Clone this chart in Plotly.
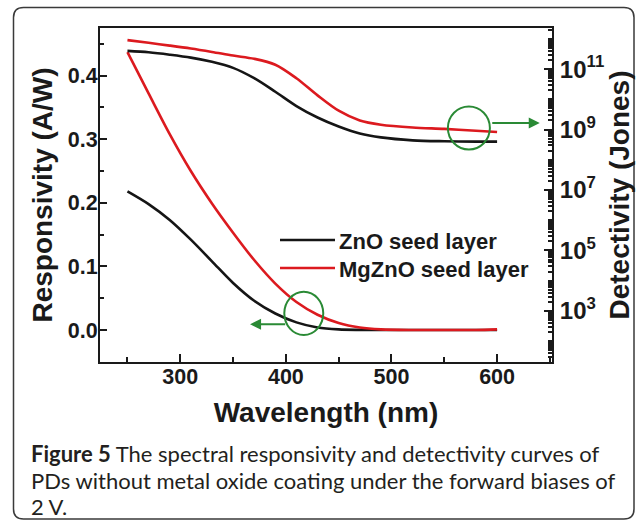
import plotly.graph_objects as go

# ---------------- data ----------------
wavelength = [250, 270, 290, 310, 330, 350, 370, 390, 410, 430, 450, 470, 490, 520, 550, 580, 600]

resp_zno = [0.218, 0.198, 0.173, 0.142, 0.108, 0.074, 0.046, 0.026, 0.012, 0.0040,
            0.0010, 0.0002, 0.0, 0.0, 0.0, 0.0, 0.0]
resp_mgzno = [0.437, 0.372, 0.308, 0.250, 0.199, 0.153, 0.110, 0.073, 0.044, 0.024,
              0.011, 0.004, 0.001, 0.0, 0.0, 0.0, 0.001]

det_zno = [4.0e11, 3.6e11, 3.0e11, 2.4e11, 1.74e11, 1.1e11, 5.0e10, 1.78e10, 6.0e9, 2.5e9,
           1.26e9, 7.4e8, 5.5e8, 4.4e8, 4.1e8, 4.0e8, 4.0e8]
det_mgzno = [9.1e11, 7.4e11, 6.0e11, 4.8e11, 3.7e11, 2.8e11, 2.2e11, 1.4e11, 5.0e10, 1.35e10,
             4.2e9, 2.0e9, 1.45e9, 1.17e9, 1.05e9, 9.1e8, 8.3e8]

series_names = ["ZnO seed layer", "MgZnO seed layer"]
series_colors = ["#151515", "#dc1a1f"]

x_title = "Wavelength (nm)"
y_title = "Responsivity (A/W)"
y2_title = "Detectivity (Jones)"

det_tick_vals = [1e3, 1e5, 1e7, 1e9, 1e11]
det_tick_text = ["10<sup>3</sup>", "10<sup>5</sup>", "10<sup>7</sup>", "10<sup>9</sup>", "10<sup>11</sup>"]
det_minor_vals = [m * 10.0 ** e for e in range(1, 13) for m in range(1, 10)
                  if not (m == 1 and e in (3, 5, 7, 9, 11))]

caption_lines = [
    "<b>Figure 5</b> The spectral responsivity and detectivity curves of",
    "PDs without metal oxide coating under the forward biases of",
    "2 V.",
]

# ---------------- figure ----------------
W, H = 638, 524
ML, MR, MT, MB = 100, 86, 28, 162
PW, PH = W - ML - MR, H - MT - MB


def px(xp):
    return (xp - ML) / PW


def py(yp):
    return (H - MB - yp) / PH


fig = go.Figure()

resp_series = [resp_zno, resp_mgzno]
det_series = [det_zno, det_mgzno]
for i in range(2):
    fig.add_trace(go.Scatter(
        x=wavelength, y=det_series[i], yaxis="y2", mode="lines",
        line=dict(color=series_colors[i], width=2.6, shape="spline", smoothing=0.9),
        name=series_names[i], showlegend=False))
for i in range(2):
    fig.add_trace(go.Scatter(
        x=wavelength, y=resp_series[i], yaxis="y", mode="lines",
        line=dict(color=series_colors[i], width=2.6, shape="spline", smoothing=0.9),
        name=series_names[i], showlegend=False))

axis_font = dict(family="Liberation Sans, Arial, sans-serif", size=21.5, color="#1a1a1a", weight="bold")
title_font = dict(family="Liberation Sans, Arial, sans-serif", size=28, color="#1a1a1a", weight="bold")

fig.update_layout(
    width=W, height=H,
    margin=dict(l=ML, r=MR, t=MT, b=MB, pad=0),
    paper_bgcolor="white", plot_bgcolor="white",
    showlegend=False,
    xaxis=dict(
        range=[224, 652], tickmode="linear", tick0=0, dtick=100,
        ticks="inside", ticklen=8, tickwidth=2, tickcolor="#1a1a1a",
        minor=dict(dtick=50, tick0=0, ticks="inside", ticklen=5, tickwidth=2, tickcolor="#1a1a1a"),
        showline=True, linecolor="#1a1a1a", linewidth=2, mirror=True,
        showgrid=False, zeroline=False,
        tickfont=axis_font, ticklabelstandoff=-6,
        title=dict(text=x_title, font=title_font, standoff=15),
    ),
    yaxis=dict(
        range=[-0.0503, 0.4748], tickmode="linear", tick0=0, dtick=0.1, tickformat=".1f",
        ticks="inside", ticklen=7, tickwidth=2, tickcolor="#1a1a1a",
        minor=dict(dtick=0.05, tick0=0, ticks="inside", ticklen=4, tickwidth=2, tickcolor="#1a1a1a"),
        showline=True, linecolor="#1a1a1a", linewidth=2,
        showgrid=False, zeroline=False,
        tickfont=axis_font, ticklabelstandoff=-4,
        title=dict(text=y_title, font=title_font, standoff=7),
    ),
    yaxis2=dict(
        type="log", range=[1.31, 12.36], overlaying="y", side="right",
        tickmode="array", tickvals=det_tick_vals, ticktext=det_tick_text,
        ticks="inside", ticklen=8, tickwidth=2, tickcolor="#1a1a1a",
        minor=dict(tickmode="array", tickvals=det_minor_vals, ticks="inside", ticklen=4,
                   tickwidth=1.5, tickcolor="#1a1a1a"),
        showline=True, linecolor="#1a1a1a", linewidth=2,
        showgrid=False, zeroline=False,
        tickfont=dict(family="Liberation Sans, Arial, sans-serif", size=24, color="#1a1a1a", weight="bold"),
        ticklabelstandoff=1,
        title=dict(text=y2_title, font=title_font, standoff=0),
    ),
)

green = "#2a8a35"
shapes = []
# rounded outer frame
L, R, T, B = px(13.5), px(634), py(7.5), py(519)
rx, ry = 10 / PW, 10 / PH
frame_path = (f"M{L+rx},{T} L{R-rx},{T} Q{R},{T} {R},{T-ry} L{R},{B+ry} Q{R},{B} {R-rx},{B} "
              f"L{L+rx},{B} Q{L},{B} {L},{B+ry} L{L},{T-ry} Q{L},{T} {L+rx},{T} Z")
shapes.append(dict(type="path", xref="paper", yref="paper", path=frame_path,
                   line=dict(color="#3a3a3a", width=1.5)))
# circles marking which curves belong to which axis
shapes.append(dict(type="circle", xref="x", yref="y", x0=553.4, x1=593.2, y0=0.2838, y1=0.3514,
                   line=dict(color=green, width=2)))
shapes.append(dict(type="circle", xref="x", yref="y", x0=398.5, x1=435.4, y0=-0.0079, y1=0.0602,
                   line=dict(color=green, width=2)))
# legend samples
legend_y = [240, 268]
for i in range(2):
    shapes.append(dict(type="line", xref="paper", yref="paper", x0=px(280), x1=px(335),
                       y0=py(legend_y[i]), y1=py(legend_y[i]),
                       line=dict(color=series_colors[i], width=2.6)))

annotations = []
for i in range(2):
    annotations.append(dict(xref="paper", yref="paper", x=px(337), y=py(legend_y[i] + 1.5),
                            xanchor="left", yanchor="middle", showarrow=False,
                            text=series_names[i],
                            font=dict(family="Liberation Sans, Arial, sans-serif", size=22,
                                      color="#1a1a1a", weight="bold")))
# arrows
annotations.append(dict(x=640.4, y=0.3255, ax=594, ay=0.3255, xref="x", yref="y",
                        axref="x", ayref="y", text="", showarrow=True,
                        arrowhead=2, arrowsize=1.1, arrowwidth=2, arrowcolor=green))
annotations.append(dict(x=366.1, y=0.009, ax=400.8, ay=0.009, xref="x", yref="y",
                        axref="x", ayref="y", text="", showarrow=True,
                        arrowhead=2, arrowsize=1.1, arrowwidth=2, arrowcolor=green))
# caption
caption_baselines = [459.3, 486.7, 512.3]
for i, line in enumerate(caption_lines):
    annotations.append(dict(xref="paper", yref="paper", x=px(29), y=py(caption_baselines[i] - 6),
                            xanchor="left", yanchor="middle", showarrow=False, align="left",
                            text=line,
                            font=dict(family="Lato, Open Sans, sans-serif", size=22, color="#231f20")))

fig.update_layout(shapes=shapes, annotations=annotations)
fig.write_html("out.html")
